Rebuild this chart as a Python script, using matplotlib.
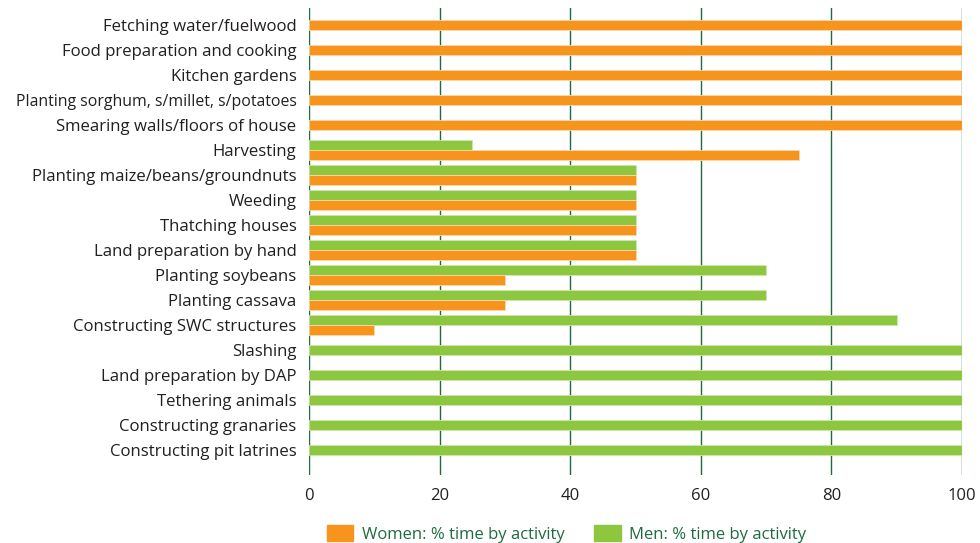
import matplotlib
matplotlib.use("Agg")
import matplotlib.pyplot as plt
import matplotlib.patches as mpatches
import numpy as np

# activities, top to bottom
activities = [
    "Fetching water/fuelwood",
    "Food preparation and cooking",
    "Kitchen gardens",
    "Planting sorghum, s/millet, s/potatoes",
    "Smearing walls/floors of house",
    "Harvesting",
    "Planting maize/beans/groundnuts",
    "Weeding",
    "Thatching houses",
    "Land preparation by hand",
    "Planting soybeans",
    "Planting cassava",
    "Constructing SWC structures",
    "Slashing",
    "Land preparation by DAP",
    "Tethering animals",
    "Constructing granaries",
    "Constructing pit latrines",
]
women = [100, 100, 100, 100, 100, 75, 50, 50, 50, 50, 30, 30, 10, 0, 0, 0, 0, 0]
men = [0, 0, 0, 0, 0, 25, 50, 50, 50, 50, 70, 70, 90, 100, 100, 100, 100, 100]

orange = "#f7941d"
green = "#8dc63f"
grid_green = "#1e6b3f"

plt.rcParams["font.family"] = ["Open Sans", "DejaVu Sans"]

fig = plt.figure(figsize=(9.8, 5.43), dpi=100)
ax = fig.add_axes([0.3153, 0.125, 0.6664, 0.86])

h = 0.4
for i, (w, m) in enumerate(zip(women, men)):
    if w > 0 and m > 0:
        ax.barh(i - h / 2, m, height=h, color=green, edgecolor="#cfe6b0", linewidth=0.6, zorder=3)
        ax.barh(i + h / 2, w, height=h, color=orange, edgecolor="#fbd9a8", linewidth=0.6, zorder=3)
    elif w > 0:
        ax.barh(i, w, height=h, color=orange, edgecolor="#fbd9a8", linewidth=0.6, zorder=3)
    else:
        ax.barh(i, m, height=h, color=green, edgecolor="#cfe6b0", linewidth=0.6, zorder=3)

ax.set_xlim(0, 100)
ax.set_ylim(18.0, -0.68)
ax.set_xticks([0, 20, 40, 60, 80, 100])
ax.set_yticks(np.arange(len(activities)))
ax.set_yticklabels(activities, fontsize=12.1, color="#231f20")
ax.tick_params(axis="x", labelsize=12, colors="#231f20", length=0, pad=9)
ax.tick_params(axis="y", length=0, pad=9)
ax.xaxis.grid(True, color=grid_green, linewidth=1.0, zorder=1)
for s in ax.spines.values():
    s.set_visible(False)
# the longest label is a touch smaller so it stays inside the figure
ax.get_yticklabels()[3].set_fontsize(11.4)

handles = [mpatches.Patch(color=orange, label="Women: % time by activity"),
           mpatches.Patch(color=green, label="Men: % time by activity")]
leg = fig.legend(handles=handles, loc="center", bbox_to_anchor=(0.578, 0.017), ncol=2,
                 frameon=False, fontsize=12, handlelength=1.6, handleheight=1.1,
                 columnspacing=1.8, handletextpad=0.5)
for t in leg.get_texts():
    t.set_color(grid_green)

fig.savefig("out.png", dpi=100)
